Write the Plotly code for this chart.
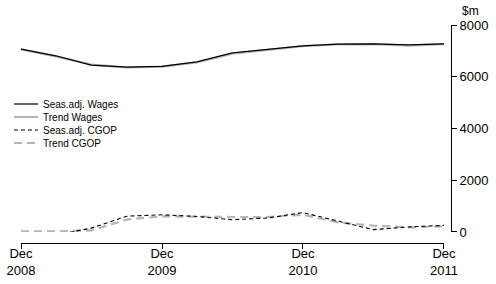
import plotly.graph_objects as go

quarters = ["2008-12-01", "2009-03-01", "2009-06-01", "2009-09-01", "2009-12-01",
            "2010-03-01", "2010-06-01", "2010-09-01", "2010-12-01",
            "2011-03-01", "2011-06-01", "2011-09-01", "2011-12-01"]
seas_wages = [7070, 6810, 6450, 6370, 6400, 6575, 6920, 7065, 7190, 7260, 7270, 7230, 7270]
trend_wages = [7060, 6790, 6470, 6360, 6390, 6550, 6890, 7050, 7180, 7250, 7260, 7200, 7260]
seas_cgop = [-80, -110, 150, 610, 665, 600, 475, 540, 750, 410, 90, 195, 255]
trend_cgop = [25, 25, 60, 480, 605, 580, 580, 580, 670, 370, 245, 180, 220]
tick_vals = ["2008-12-01", "2009-12-01", "2010-12-01", "2011-12-01"]
tick_text = ["Dec<br>2008", "Dec<br>2009", "Dec<br>2010", "Dec<br>2011"]
y_ticks = [0, 2000, 4000, 6000, 8000]
legend_names = ["Seas.adj. Wages", "Trend Wages", "Seas.adj. CGOP", "Trend CGOP"]

FONT = "Liberation Sans, Arial, sans-serif"
GREY = "#b4b4b4"
styles = {
    "Seas.adj. Wages": dict(color="black", width=1.2),
    "Trend Wages": dict(color=GREY, width=2.2),
    "Seas.adj. CGOP": dict(color="black", width=1.1, dash="4px,3px"),
    "Trend CGOP": dict(color=GREY, width=2.2, dash="8px,5px"),
}
series = {
    "Seas.adj. Wages": seas_wages,
    "Trend Wages": trend_wages,
    "Seas.adj. CGOP": seas_cgop,
    "Trend CGOP": trend_cgop,
}

fig = go.Figure()
# trends drawn underneath the seasonally adjusted lines
for name in ["Trend Wages", "Seas.adj. Wages", "Trend CGOP", "Seas.adj. CGOP"]:
    fig.add_trace(go.Scatter(x=quarters, y=series[name], mode="lines", name=name,
                             line=styles[name], showlegend=False))

fig.update_layout(
    width=496, height=284,
    margin=dict(l=21, r=45, t=25, b=41),
    paper_bgcolor="white", plot_bgcolor="white",
    font=dict(family=FONT, size=13, color="black"),
    showlegend=False,
    xaxis=dict(domain=[0, 0.9837], anchor="free", position=0, automargin=False,
               range=[quarters[0], quarters[-1]], tickvals=tick_vals, ticktext=tick_text,
               showgrid=False, zeroline=False, showline=True, linecolor="black", linewidth=1,
               ticks="outside", ticklen=5, tickcolor="black", tickfont=dict(size=13),
               ticklabelstandoff=-7),
    yaxis=dict(domain=[0.0505, 1], anchor="free", position=1, side="right", automargin=False,
               range=[0, 8000], tickvals=y_ticks, showgrid=False, zeroline=False,
               showline=True, linecolor="black", linewidth=1,
               ticks="outside", ticklen=5, tickcolor="black", tickfont=dict(size=13)),
)
fig.add_annotation(text="$m", xref="paper", yref="paper", x=1.045, y=1.0, yshift=14,
                   xanchor="center", yanchor="middle", showarrow=False,
                   font=dict(size=12, family=FONT))

# hand-built legend (compact row spacing as in the reference)
plot_w, plot_h = 496 - 21 - 45, 284 - 25 - 41
def px_x(p):
    return (p - 21) / plot_w
def px_y(p):
    return (284 - 41 - p) / plot_h
for i, name in enumerate(legend_names):
    ypix = 104 + 13 * i
    st = styles[name]
    fig.add_shape(type="line", xref="paper", yref="paper",
                  x0=px_x(14), x1=px_x(38), y0=px_y(ypix), y1=px_y(ypix),
                  line=dict(color=st["color"], width=st["width"], dash=st.get("dash", "solid")))
    fig.add_annotation(text=name, xref="paper", yref="paper", x=px_x(41), y=px_y(ypix),
                       xanchor="left", yanchor="middle", showarrow=False,
                       font=dict(size=10, family=FONT))

fig.write_html("out.html")
